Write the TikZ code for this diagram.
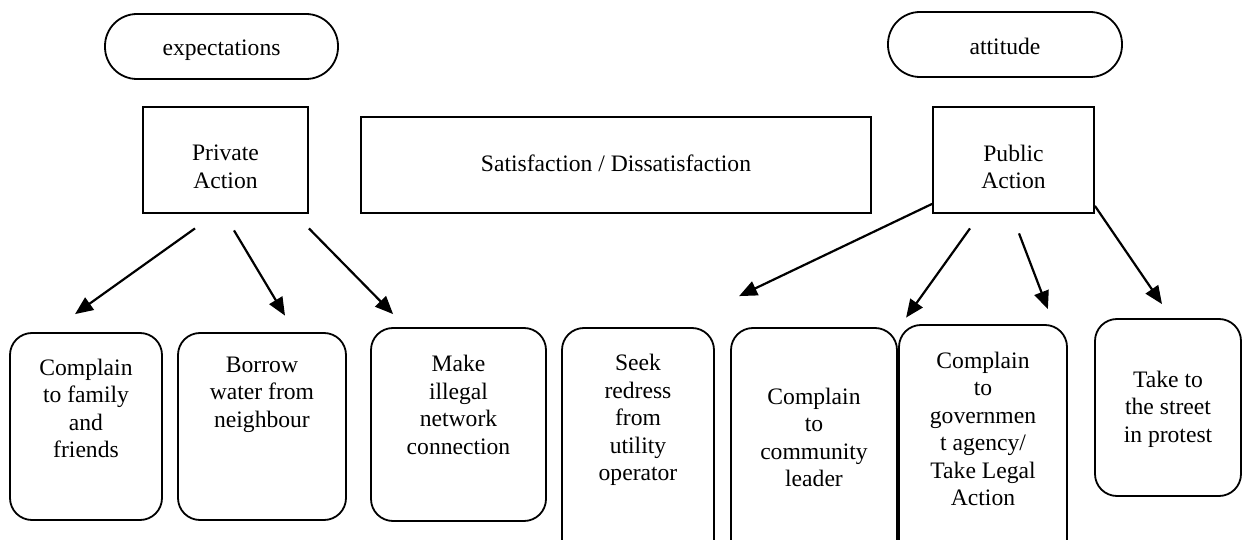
\documentclass[tikz,border=0pt]{standalone}
\usepackage{fontspec}
\setmainfont{Liberation Serif}
\usetikzlibrary{arrows.meta}
\begin{document}
\begin{tikzpicture}[x=1pt,y=-1pt,
  boxline/.style={draw, line width=1.8pt},
  sqbox/.style={boxline, rectangle, inner sep=0pt},
  rbox/.style={boxline, rectangle, rounded corners=22pt, inner sep=0pt},
  pill/.style={boxline, rectangle, rounded corners=32pt, inner sep=0pt},
  txt/.style={align=center, inner sep=0pt, font=\fontsize{23.6}{27.5}\selectfont},
  arr/.style={line width=2.2pt, -{Triangle[length=18pt,width=15pt]}}]
\useasboundingbox (0,0) rectangle (1243,540);
\fill[white] (0,0) rectangle (1243,540);
\clip (0,0) rectangle (1243,540);

% top ovals
\node[pill, minimum width=233pt, minimum height=65pt] (exp) at (221.5,46.5) {};
\node[txt] (expt) at (221.5,50) {expectations};
\node[pill, minimum width=234pt, minimum height=65pt] (att) at (1005,44.5) {};
\node[txt] (attt) at (1005,46.5) {attitude};

% middle boxes
\node[sqbox, minimum width=165pt, minimum height=106pt] (pa) at (225.5,160) {};
\node[txt] (pat) at (225.5,167) {Private\\Action};
\node[sqbox, minimum width=510pt, minimum height=96pt] (sat) at (616,165) {};
\node[txt] (satt) at (616,163) {Satisfaction / Dissatisfaction};
\node[sqbox, minimum width=161pt, minimum height=106pt] (pub) at (1013.5,160) {};
\node[txt] (pubt) at (1013.5,167) {Public\\Action};

% bottom boxes
\node[rbox, minimum width=152pt, minimum height=187pt] (b1) at (86,426.5) {};
\node[txt] (b1t) at (86,408.5) {Complain\\to family\\and\\friends};
\node[rbox, minimum width=168pt, minimum height=187pt] (b2) at (262,426.5) {};
\node[txt] (b2t) at (262,394.5) {Borrow\\water from\\neighbour};
\node[rbox, minimum width=175pt, minimum height=193pt] (b3) at (458.5,424.5) {};
\node[txt] (b3t) at (458.5,405) {Make\\illegal\\network\\connection};
\node[rbox, minimum width=152pt, minimum height=242pt] (b4) at (638,449) {};
\node[txt] (b4t) at (638,420) {Seek\\redress\\from\\utility\\operator};
\node[rbox, minimum width=166pt, minimum height=242pt] (b5) at (814,449) {};
\node[txt] (b5t) at (814,437.5) {Complain\\to\\community\\leader};
\node[rbox, minimum width=168pt, minimum height=245pt] (b6) at (983,447.5) {};
\node[txt] (b6t) at (983,429) {Complain\\to\\governmen\\t agency/\\Take Legal\\Action};
\node[rbox, minimum width=146pt, minimum height=177pt] (b7) at (1168,407.5) {};
\node[txt] (b7t) at (1168,409) {Take to\\the street\\in protest};

% arrows from Private Action
\draw[arr] ([shift={(-30.5,14.5)}]pa.south) -- ([shift={(-11,-18)}]b1.north);
\draw[arr] ([shift={(8.5,16.5)}]pa.south) -- ([shift={(23,-16.5)}]b2.north);
\draw[arr] ([shift={(0,14.5)}]pa.south east) -- ([shift={(23,-13)}]b3.north west);

% arrows from Public Action
\draw[arr] ([shift={(0,-10)}]pub.south west) -- ([shift={(9,-31)}]b5.north west);
\draw[arr] ([shift={(-43.5,14.5)}]pub.south) -- ([shift={(8,-6.5)}]b6.north west);
\draw[arr] ([shift={(5.5,19.5)}]pub.south) -- ([shift={(-20,-15)}]b6.north east);
\draw[arr] ([shift={(0,-8)}]pub.south east) -- ([shift={(-6,-14)}]b7.north);
\end{tikzpicture}
\end{document}
